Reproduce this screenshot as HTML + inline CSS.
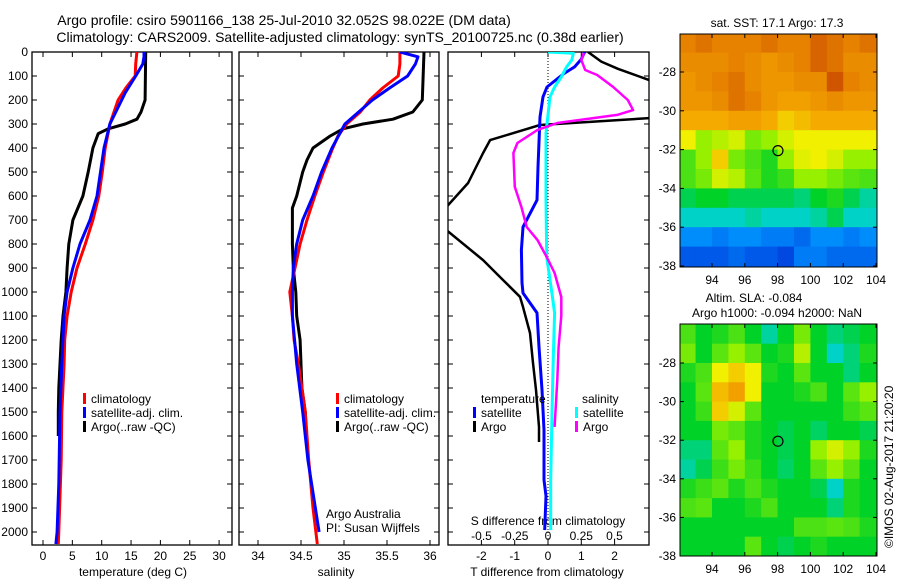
<!DOCTYPE html>
<html><head><meta charset="utf-8">
<style>
html,body{margin:0;padding:0;background:#fff;}
svg{display:block;font-family:"Liberation Sans",sans-serif;}
text{font-size:12px;fill:#000;}
</style></head>
<body>
<svg id="c" width="900" height="580" viewBox="0 0 900 580">
<text x="284" y="25" text-anchor="middle" style="font-size:14px">Argo profile: csiro 5901166_138 25-Jul-2010 32.052S 98.022E (DM data)</text>
<text x="340" y="42" text-anchor="middle" style="font-size:14px">Climatology: CARS2009. Satellite-adjusted climatology: synTS_20100725.nc (0.38d earlier)</text>
</svg>
<script>
// ---------- data ----------
const depthTicks=[0,100,200,300,400,500,600,700,800,900,1000,1100,1200,1300,1400,1500,1600,1700,1800,1900,2000];
const tempTicks=[0,5,10,15,20,25,30];
const salTicks=[34,34.5,35,35.5,36];
const tdTicks=[-2,-1,0,1,2];
const sdTicks=[-0.5,-0.25,0,0.25,0.5];
const sdTickLabels=["-0.5","-0.25","0","0.25","0.5"];
const lonTicks=[94,96,98,100,102,104];
const latTicks=[-28,-30,-32,-34,-36,-38];

const tClimD=[0,50,100,150,200,300,400,500,600,700,800,900,1000,1100,1200,1300,1500,1700,2000,2050];
const tClimV=[16.0,15.8,15.7,14.1,12.8,11.4,10.6,10.1,9.5,8.5,7.2,5.8,4.8,4.1,3.7,3.6,3.2,3.1,2.7,2.6];
const tSatD=[0,20,50,100,170,300,400,600,700,800,900,1000,1100,1300,1500,1800,2000,2050];
const tSatV=[17.2,17.2,17.0,15.8,14.0,11.4,10.4,9.2,8.0,6.3,5.1,4.1,3.6,3.2,2.9,2.7,2.4,2.2];
const tArgoD=[0,200,250,280,300,320,340,400,500,600,700,800,900,1000,1100,1200,1300,1400,1500,1600];
const tArgoV=[17.5,17.4,16.7,16.0,14.0,11.1,9.4,8.5,7.7,6.8,5.1,4.4,4.1,3.9,3.4,3.1,2.9,2.7,2.6,2.6];

const sClimD=[0,50,100,150,200,250,300,350,400,500,600,700,800,900,1000,1100,1200,1300,1400,1500,1700,1900,2050];
const sClimV=[35.65,35.65,35.63,35.45,35.30,35.19,35.03,34.93,34.87,34.76,34.66,34.57,34.49,34.43,34.37,34.40,34.42,34.47,34.51,34.55,34.59,34.64,34.69];
const sSatD=[0,20,50,100,150,200,300,400,500,600,700,800,900,1000,1100,1300,1500,1700,2000];
const sSatV=[35.65,35.86,35.83,35.74,35.53,35.33,35.01,34.86,34.74,34.64,34.52,34.45,34.41,34.40,34.40,34.45,34.52,34.58,34.71];
const sArgoD=[0,200,250,280,300,320,350,400,450,500,600,650,700,800,900,1000,1100,1200,1300,1400,1500,1600];
const sArgoV=[35.93,35.91,35.80,35.57,35.22,34.99,34.84,34.64,34.57,34.52,34.45,34.40,34.40,34.40,34.41,34.44,34.45,34.49,34.50,34.51,34.55,34.56];

const dtSatD=[0,30,62,88,146,187,271,479,617,729,825,962,1004,1087,1229,1408,1575,1783,1850,1992];
const dtSatV=[1.1,1.0,0.8,0.5,-0.03,-0.15,-0.24,-0.3,-0.33,-0.75,-0.8,-0.78,-0.75,-0.33,-0.27,-0.18,-0.12,-0.12,-0.06,-0.1];
const dtArgoD=[0,40,70,100,140,200,275,304,367,421,546,646,742,867,950,1020,1062,1171,1296,1408,1562,1625];
const dtArgoV=[1.2,1.6,2.1,2.7,3.5,5.0,3.1,-0.24,-1.74,-1.95,-2.4,-3.05,-3.05,-1.95,-1.35,-0.84,-0.75,-0.54,-0.45,-0.36,-0.27,-0.27];
const dsSatD=[0,5,33,62,104,146,187,337,617,854,1008,1087,1271,1504,1783,1992];
const dsSatV=[0.0,0.19,0.18,0.14,0.1,0.05,0.015,-0.015,-0.015,-0.01,0.03,0.05,0.04,0.03,0.02,0.02];
const dsArgoD=[4,33,75,96,146,200,242,262,296,325,379,421,562,646,729,783,854,921,1021,1100,1229,1367,1562];
const dsArgoV=[0.27,0.25,0.28,0.37,0.49,0.6,0.64,0.52,0.07,-0.08,-0.23,-0.26,-0.25,-0.2,-0.16,-0.08,-0.01,0.05,0.1,0.1,0.08,0.07,0.05];

const sstGrid=[
[0.82,0.84,0.82,0.82,0.82,0.84,0.82,0.82,0.86,0.84,0.82,0.84],
[0.80,0.80,0.80,0.82,0.80,0.78,0.80,0.82,0.86,0.84,0.80,0.80],
[0.78,0.80,0.82,0.84,0.80,0.78,0.78,0.80,0.80,0.88,0.82,0.80],
[0.78,0.78,0.80,0.84,0.82,0.78,0.76,0.76,0.78,0.80,0.78,0.78],
[0.74,0.74,0.74,0.76,0.76,0.74,0.70,0.72,0.74,0.74,0.74,0.74],
[0.66,0.60,0.62,0.64,0.58,0.60,0.64,0.66,0.66,0.66,0.66,0.66],
[0.55,0.60,0.70,0.58,0.55,0.52,0.60,0.65,0.66,0.64,0.60,0.60],
[0.55,0.58,0.64,0.62,0.56,0.52,0.54,0.60,0.60,0.58,0.56,0.55],
[0.48,0.50,0.50,0.48,0.48,0.48,0.48,0.46,0.50,0.52,0.48,0.44],
[0.42,0.42,0.42,0.42,0.44,0.42,0.42,0.42,0.44,0.48,0.42,0.42],
[0.32,0.32,0.30,0.32,0.32,0.30,0.30,0.28,0.32,0.32,0.30,0.32],
[0.26,0.26,0.26,0.28,0.26,0.26,0.24,0.30,0.30,0.28,0.28,0.28]];
const slaGrid=[
[0.55,0.50,0.52,0.55,0.50,0.44,0.50,0.58,0.50,0.46,0.48,0.50],
[0.58,0.50,0.56,0.60,0.56,0.50,0.52,0.62,0.50,0.42,0.46,0.52],
[0.52,0.55,0.66,0.70,0.66,0.52,0.50,0.56,0.50,0.50,0.46,0.50],
[0.50,0.56,0.72,0.76,0.66,0.50,0.50,0.52,0.55,0.50,0.56,0.60],
[0.50,0.54,0.70,0.64,0.56,0.50,0.50,0.50,0.50,0.50,0.54,0.56],
[0.50,0.50,0.58,0.56,0.52,0.50,0.48,0.50,0.47,0.50,0.50,0.48],
[0.46,0.46,0.56,0.60,0.52,0.50,0.48,0.50,0.60,0.64,0.60,0.52],
[0.44,0.48,0.54,0.58,0.54,0.50,0.47,0.50,0.56,0.60,0.56,0.50],
[0.52,0.54,0.56,0.52,0.55,0.52,0.50,0.50,0.48,0.42,0.52,0.50],
[0.55,0.56,0.50,0.50,0.52,0.55,0.50,0.50,0.50,0.46,0.52,0.50],
[0.50,0.50,0.50,0.50,0.50,0.50,0.50,0.55,0.55,0.56,0.55,0.52],
[0.50,0.50,0.50,0.50,0.56,0.50,0.48,0.50,0.52,0.50,0.50,0.50]];
const gridLon0=92, gridLat0=-26;
const argoLon=98.022, argoLat=-32.052;

// ---------- helpers ----------
const NS="http://www.w3.org/2000/svg";
const svg=document.getElementById('c');
function mk(tag,attrs,parent){const e=document.createElementNS(NS,tag);for(const k in attrs)e.setAttribute(k,attrs[k]);(parent||svg).appendChild(e);return e;}
const yD=d=>52+d*0.24;
const xT=t=>43+t*5.87;
const xS=s=>258+(s-34)*86;
const xDT=v=>548+v*33.3;
const xDS=v=>548+v*133;

// clip paths
const defs=mk('defs',{});
[[1,32,232],[2,239,439],[3,448,649]].forEach(([i,a,b])=>{
  const cp=mk('clipPath',{id:'clip'+i},defs);mk('rect',{x:a,y:52,width:b-a,height:493},cp);
});

function panel(x0,x1,name){
  const r=mk('rect',{x:x0,y:52,width:x1-x0,height:493,fill:'none',stroke:'#000','stroke-width':1.3});
  
  
  depthTicks.forEach(d=>{
    const y=yD(d);
    mk('line',{x1:x0,x2:x0+5,y1:y,y2:y,stroke:'#000'});
    mk('line',{x1:x1-5,x2:x1,y1:y,y2:y,stroke:'#000'});
  });
}
panel(32,232,'temperature-panel');
panel(239,439,'salinity-panel');
panel(448,649,'difference-panel');

depthTicks.forEach(d=>{
  const t=mk('text',{x:28,y:yD(d)+4,'text-anchor':'end'});t.textContent=d;
  
  
});
function xticks(arr,fx,labels,yLab,top){
  arr.forEach((v,i)=>{
    const x=fx(v);
    mk('line',{x1:x,x2:x,y1:540,y2:545,stroke:'#000'});
    if(top) mk('line',{x1:x,x2:x,y1:52,y2:57,stroke:'#000'});
    const t=mk('text',{x:x,y:yLab,'text-anchor':'middle'});t.textContent=labels?labels[i]:v;
    
    
  });
}
xticks(tempTicks,xT,null,560,true);
xticks(salTicks,xS,null,560,true);
xticks(tdTicks,xDT,null,560,true);
sdTicks.forEach((v,i)=>{
  const t=mk('text',{x:xDS(v),y:540,'text-anchor':'middle'});t.textContent=sdTickLabels[i];
  
  
});
function label(x,y,s,name,anchor){const t=mk('text',{x:x,y:y,'text-anchor':anchor||'middle'});t.textContent=s;
  
  return t;}
label(133,576,'temperature (deg C)','temperature-axis-title');
label(336,576,'salinity','salinity-axis-title');
label(547,576,'T difference from climatology','t-diff-axis-title');
label(548,525,'S difference from climatology','s-diff-axis-title');
label(326,518,'Argo Australia','credit-line-1','start');
label(326,532,'PI: Susan Wijffels','credit-line-2','start');

// zero dotted line
mk('line',{x1:548,x2:548,y1:52,y2:545,stroke:'#000','stroke-dasharray':'1,2','stroke-width':1});

function series(D,V,fx,color,w,clip,name){
  const pts=D.map((d,i)=>fx(V[i]).toFixed(1)+','+yD(d).toFixed(1)).join(' ');
  const p=mk('polyline',{points:pts,fill:'none',stroke:color,'stroke-width':w,'clip-path':'url(#clip'+clip+')','stroke-linejoin':'round'});
  
  
}
series(tArgoD,tArgoV,xT,'#000',3,1,'temp-argo-line');
series(tClimD,tClimV,xT,'#f00',3,1,'temp-climatology-line');
series(tSatD,tSatV,xT,'#00f',3,1,'temp-satellite-line');
series(sArgoD,sArgoV,xS,'#000',3,2,'sal-argo-line');
series(sClimD,sClimV,xS,'#f00',3,2,'sal-climatology-line');
series(sSatD,sSatV,xS,'#00f',3,2,'sal-satellite-line');
series(dtArgoD,dtArgoV,xDT,'#000',2.5,3,'tdiff-argo-line');
series(dtSatD,dtSatV,xDT,'#00f',3,3,'tdiff-satellite-line');
series(dsSatD,dsSatV,xDS,'#0ff',3,3,'sdiff-satellite-line');
series(dsArgoD,dsArgoV,xDS,'#f0f',2.5,3,'sdiff-argo-line');

function legendEntry(x,y,color,txt,name){
  const g=mk('g',{});
  
  
  mk('rect',{x:x,y:y-10,width:3,height:11,fill:color},g);
  const t=mk('text',{x:x+8,y:y},g);t.textContent=txt;
}
[[83,'legend']].forEach(()=>{});
legendEntry(83,403,'#f00','climatology','legend-climatology');
legendEntry(83,417,'#00f','satellite-adj. clim.','legend-satellite-adj');
legendEntry(83,431,'#000','Argo(..raw -QC)','legend-argo');
legendEntry(336,403,'#f00','climatology','legend-climatology-2');
legendEntry(336,417,'#00f','satellite-adj. clim.','legend-satellite-adj-2');
legendEntry(336,431,'#000','Argo(..raw -QC)','legend-argo-2');
label(481,403,'temperature','legend-temperature-heading','start');
label(582,403,'salinity','legend-salinity-heading','start');
legendEntry(473,417,'#00f','satellite','legend-t-satellite');
legendEntry(473,431,'#000','Argo','legend-t-argo');
legendEntry(575,417,'#0ff','satellite','legend-s-satellite');
legendEntry(575,431,'#f0f','Argo','legend-s-argo');

// ---------- maps ----------
function cmap(v){
  const stops=[[0.15,[0,0,170]],[0.25,[0,80,230]],[0.33,[0,150,255]],[0.42,[0,210,200]],[0.5,[0,210,40]],[0.6,[150,240,0]],[0.66,[240,240,0]],[0.74,[245,170,0]],[0.82,[230,130,0]],[0.9,[200,70,0]],[1,[150,0,0]]];
  if(v<=stops[0][0])return 'rgb('+stops[0][1]+')';
  for(let i=1;i<stops.length;i++){if(v<=stops[i][0]){const a=stops[i-1],b=stops[i],f=(v-a[0])/(b[0]-a[0]);
    return 'rgb('+a[1].map((c,k)=>Math.round(c+(b[1][k]-c)*f)).join(',')+')';}}
  return 'rgb(150,0,0)';
}
function drawMap(grid,x0,x1,y0,y1,ylat28,ylat38,name){
  const xL=v=>712+(v-94)*16.4;
  const yL=v=>ylat28+(-28-v)*(ylat38-ylat28)/10;
  const cp=mk('clipPath',{id:'clip'+name},defs);mk('rect',{x:x0,y:y0,width:x1-x0,height:y1-y0},cp);
  const g=mk('g',{'clip-path':'url(#clip'+name+')'});
  
  
  grid.forEach((row,r)=>row.forEach((v,c)=>{
    const xa=xL(gridLon0+c),xb=xL(gridLon0+c+1),ya=yL(gridLat0-r),yb=yL(gridLat0-r-1);
    const cell=mk('rect',{x:xa,y:ya,width:xb-xa+0.6,height:yb-ya+0.6,fill:cmap(v)},g);
    
    
  }));
  mk('rect',{x:x0,y:y0,width:x1-x0,height:y1-y0,fill:'none',stroke:'#000','stroke-width':1});
  lonTicks.forEach(v=>{const x=xL(v);mk('line',{x1:x,x2:x,y1:y0,y2:y0+4,stroke:'#000'});mk('line',{x1:x,x2:x,y1:y1-4,y2:y1,stroke:'#000'});
    const t=mk('text',{x:x,y:y1+17,'text-anchor':'middle'});t.textContent=v;
    
    });
  latTicks.forEach(v=>{const y=yL(v);mk('line',{x1:x0,x2:x0+4,y1:y,y2:y,stroke:'#000'});mk('line',{x1:x1-4,x2:x1,y1:y,y2:y,stroke:'#000'});
    const t=mk('text',{x:x0-4,y:y+4,'text-anchor':'end'});t.textContent=v;
    
    });
  const c=mk('circle',{cx:xL(argoLon),cy:yL(argoLat),r:5,fill:'none',stroke:'#000','stroke-width':1.2});
  
  
}
drawMap(sstGrid,680,877,34,267,72,266,'sst-map');
drawMap(slaGrid,680,877,324,556,363,556,'sla-map');
label(777,27,'sat. SST: 17.1  Argo: 17.3','sst-map-title');
label(754,302,'Altim. SLA: -0.084','sla-map-title');
label(777,317,'Argo h1000: -0.094 h2000: NaN','argo-height-title');
const rt=label(0,0,'©IMOS 02-Aug-2017 21:20:20','imos-timestamp','start');
rt.setAttribute('transform','translate(893,548) rotate(-90)');
</script>
</body></html>
